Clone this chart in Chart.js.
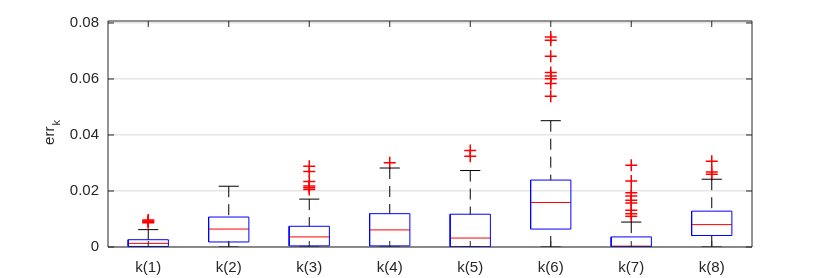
<!DOCTYPE html>
<html>
<head>
<meta charset="utf-8">
<script src="https://cdn.jsdelivr.net/npm/chart.js@4/dist/chart.umd.min.js"></script>
<style>
  html, body { margin: 0; padding: 0; background: #ffffff; }
  #wrap { width: 830px; height: 278px; position: relative; }
</style>
</head>
<body>
<div id="wrap"><canvas id="boxChart"></canvas></div>
<script>
// ======================================
// Data
// ======================================

const groups = ["k(1)", "k(2)", "k(3)", "k(4)", "k(5)", "k(6)", "k(7)", "k(8)"];

const lowerWhisker = [0, 0, 0, 0, 0, 0, 0, 0];
const q1Values = [0.0002, 0.0018, 0.0004, 0.0004, 0.0001, 0.0064, 0.0001, 0.0041];
const medianValues = [0.0013, 0.0064, 0.0036, 0.0061, 0.0032, 0.0159, 0.0003, 0.0080];
const q3Values = [0.0026, 0.0107, 0.0074, 0.0119, 0.0117, 0.0239, 0.0036, 0.0128];
const upperWhisker = [0.0062, 0.0217, 0.0171, 0.0282, 0.0273, 0.0451, 0.0089, 0.0242];

const outliers = [
  [0.0087, 0.0090, 0.0093, 0.0096],
  [],
  [0.0205, 0.0212, 0.0218, 0.0234, 0.0270, 0.0288],
  [0.0301],
  [0.0324, 0.0345],
  [0.0538, 0.0584, 0.0601, 0.0611, 0.0623, 0.0681, 0.0738, 0.0750],
  [0.0110, 0.0119, 0.0131, 0.0157, 0.0167, 0.0182, 0.0194, 0.0236, 0.0292],
  [0.0260, 0.0268, 0.0306]
];

const yTicks = [0, 0.02, 0.04, 0.06, 0.08];
const yMax = 0.0807;


// ======================================
// Chart data building
// ======================================

const boxHalf = 0.25;
const capHalf = 0.125;

function gap(x) {
  return { x: x, y: null };
}

const boxPoints = [];
const medianPoints = [];
const whiskerPoints = [];
const capPoints = [];
const outlierPoints = [];

groups.forEach((_, i) => {
  const x = i + 1;

  boxPoints.push(
    { x: x - boxHalf, y: q1Values[i] },
    { x: x + boxHalf, y: q1Values[i] },
    { x: x + boxHalf, y: q3Values[i] },
    { x: x - boxHalf, y: q3Values[i] },
    { x: x - boxHalf, y: q1Values[i] },
    gap(x)
  );

  medianPoints.push(
    { x: x - boxHalf, y: medianValues[i] },
    { x: x + boxHalf, y: medianValues[i] },
    gap(x)
  );

  whiskerPoints.push(
    { x: x, y: upperWhisker[i] },
    { x: x, y: q3Values[i] },
    gap(x),
    { x: x, y: lowerWhisker[i] },
    { x: x, y: q1Values[i] },
    gap(x)
  );

  capPoints.push(
    { x: x - capHalf, y: upperWhisker[i] },
    { x: x + capHalf, y: upperWhisker[i] },
    gap(x),
    { x: x - capHalf, y: lowerWhisker[i] },
    { x: x + capHalf, y: lowerWhisker[i] },
    gap(x)
  );

  outliers[i].forEach((value) => {
    outlierPoints.push({ x: x, y: value });
  });
});


// ======================================
// Frame, inward ticks and y label
// ======================================

const axisColor = "#262626";

const framePlugin = {
  id: "frame",
  afterDraw(chart) {
    const ctx = chart.ctx;
    const area = chart.chartArea;
    const xScale = chart.scales.x;
    const yScale = chart.scales.y;
    const tickLen = 6;

    ctx.save();
    ctx.strokeStyle = axisColor;
    ctx.lineWidth = 1;

    ctx.beginPath();
    ctx.rect(area.left, area.top, area.right - area.left, area.bottom - area.top);

    groups.forEach((_, i) => {
      const px = xScale.getPixelForValue(i + 1);
      ctx.moveTo(px, area.top);
      ctx.lineTo(px, area.top + tickLen);
      ctx.moveTo(px, area.bottom);
      ctx.lineTo(px, area.bottom - tickLen);
    });

    yTicks.forEach((value) => {
      const py = yScale.getPixelForValue(value);
      ctx.moveTo(area.left, py);
      ctx.lineTo(area.left + tickLen, py);
      ctx.moveTo(area.right, py);
      ctx.lineTo(area.right - tickLen, py);
    });
    ctx.stroke();

    // y label: err with subscript k
    ctx.fillStyle = axisColor;
    ctx.translate(53.5, 133);
    ctx.rotate(-Math.PI / 2);
    ctx.textBaseline = "alphabetic";
    ctx.font = "15px 'Liberation Sans', Arial, sans-serif";
    const mainWidth = ctx.measureText("err").width;
    ctx.font = "11px 'Liberation Sans', Arial, sans-serif";
    const subWidth = ctx.measureText("k").width;
    const start = -(mainWidth + subWidth) / 2;
    ctx.font = "15px 'Liberation Sans', Arial, sans-serif";
    ctx.fillText("err", start, 0);
    ctx.font = "11px 'Liberation Sans', Arial, sans-serif";
    ctx.fillText("k", start + mainWidth + 1, 6.5);

    ctx.restore();
  }
};


// ======================================
// Chart
// ======================================

const tickFont = {
  family: "'Liberation Sans', Arial, sans-serif",
  size: 15
};

new Chart(document.getElementById("boxChart"), {
  type: "scatter",
  data: {
    datasets: [
      {
        label: "boxes",
        data: boxPoints,
        showLine: true,
        spanGaps: false,
        borderColor: "#0000ff",
        borderWidth: 1,
        pointRadius: 0,
        fill: false
      },
      {
        label: "medians",
        data: medianPoints,
        showLine: true,
        spanGaps: false,
        borderColor: "#ff0000",
        borderWidth: 1,
        pointRadius: 0
      },
      {
        label: "whiskers",
        data: whiskerPoints,
        showLine: true,
        spanGaps: false,
        borderColor: "#000000",
        borderWidth: 1,
        borderDash: [11, 7],
        pointRadius: 0
      },
      {
        label: "caps",
        data: capPoints,
        showLine: true,
        spanGaps: false,
        borderColor: "#000000",
        borderWidth: 1,
        pointRadius: 0
      },
      {
        label: "outliers",
        data: outlierPoints,
        showLine: false,
        pointStyle: "cross",
        pointRadius: 6,
        pointHoverRadius: 6,
        borderColor: "#ff0000",
        backgroundColor: "#ff0000",
        borderWidth: 1.5
      }
    ]
  },
  options: {
    responsive: true,
    maintainAspectRatio: false,
    animation: false,
    events: [],
    layout: {
      padding: { left: 0, top: 21, right: 78, bottom: 0 }
    },
    plugins: {
      legend: { display: false },
      tooltip: { enabled: false }
    },
    scales: {
      x: {
        type: "linear",
        min: 0.5,
        max: 8.5,
        afterBuildTicks: (scale) => {
          scale.ticks = groups.map((_, i) => ({ value: i + 1 }));
        },
        afterFit: (scale) => {
          scale.height = 31;
        },
        grid: { display: false, drawTicks: false },
        border: { display: false },
        ticks: {
          color: axisColor,
          font: tickFont,
          padding: 12,
          maxRotation: 0,
          callback: (value) => groups[value - 1]
        }
      },
      y: {
        type: "linear",
        min: 0,
        max: yMax,
        afterBuildTicks: (scale) => {
          scale.ticks = yTicks.map((value) => ({ value: value }));
        },
        afterFit: (scale) => {
          scale.width = 108;
        },
        grid: {
          color: "#e6e6e6",
          lineWidth: 1.5,
          drawTicks: false
        },
        border: { display: false },
        ticks: {
          color: axisColor,
          font: tickFont,
          padding: 9,
          callback: (value) => (value === 0 ? "0" : value.toFixed(2))
        }
      }
    }
  },
  plugins: [framePlugin]
});
</script>
</body>
</html>
